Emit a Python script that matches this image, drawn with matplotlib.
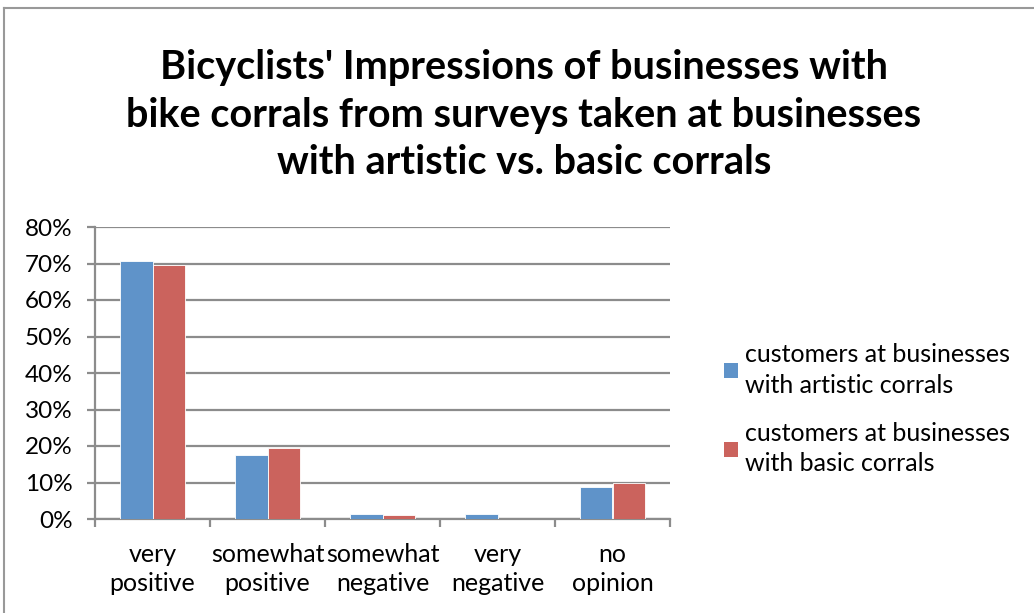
import matplotlib
matplotlib.use("Agg")
import matplotlib.pyplot as plt
import numpy as np
from matplotlib.lines import Line2D
from matplotlib.patches import Patch

categories = ["very\npositive", "somewhat\npositive", "somewhat\nnegative", "very\nnegative", "no\nopinion"]
artistic = [70.6, 17.5, 1.4, 1.3, 8.8]
basic = [69.6, 19.4, 1.1, 0.0, 9.8]
series_names = ["customers at businesses\nwith artistic corrals",
                "customers at businesses\nwith basic corrals"]
yticks = [0, 10, 20, 30, 40, 50, 60, 70, 80]
title = "Bicyclists' Impressions of businesses with\nbike corrals from surveys taken at businesses\nwith artistic vs. basic corrals"

plt.rcParams['font.family'] = ['Lato', 'DejaVu Sans']

W, H = 1034, 613
fig = plt.figure(figsize=(W / 100, H / 100), dpi=100)
ax = fig.add_axes([95 / W, 1 - 519 / H, (670 - 95) / W, (519 - 227) / H])

blue = "#5F93C9"
red = "#CB635D"
grid_c = "#8C8C8C"

x = np.arange(len(categories))
bw = 0.285
ax.bar(x - bw / 2, artistic, bw, color=blue, edgecolor="white", linewidth=0.6, zorder=3)
ax.bar(x + bw / 2, basic, bw, color=red, edgecolor="white", linewidth=0.6, zorder=3)

ax.set_xlim(-0.5, len(categories) - 0.5)
ax.set_ylim(0, 80)
ax.set_yticks(yticks)
ax.set_yticklabels([f"{v}%" for v in yticks], fontsize=17.5)
ax.yaxis.grid(True, color=grid_c, linewidth=1.6, zorder=0)
ax.set_axisbelow(True)

ax.set_xticks(np.arange(len(categories) + 1) - 0.5)
ax.set_xticklabels([])
ax.set_xticks(x, minor=True)
ax.set_xticklabels(categories, minor=True, fontsize=18, linespacing=1.35)
ax.tick_params(axis="x", which="minor", length=0, pad=17)
ax.tick_params(axis="x", which="major", length=6, width=1.6, color=grid_c)
ax.tick_params(axis="y", length=6, width=1.6, color=grid_c, pad=10)

for s in ["top", "right"]:
    ax.spines[s].set_visible(False)
for s in ["left", "bottom"]:
    ax.spines[s].set_color(grid_c)
    ax.spines[s].set_linewidth(1.6)

fig.text(524 / W, 1 - 115 / H, title, ha="center", va="center", fontsize=28.5,
         fontweight="bold", linespacing=1.36)

handles = [Patch(facecolor=blue), Patch(facecolor=red)]
leg = fig.legend(handles, series_names, loc="upper left", bbox_to_anchor=(714 / W, 1 - 333 / H),
                 frameon=False, fontsize=18, handlelength=0.55, handleheight=0.55,
                 handletextpad=0.3, labelspacing=1.0, borderaxespad=0)
for t in leg.get_texts():
    t.set_linespacing(1.4)

# outer chart border
fig.add_artist(Line2D([4 / W, 4 / W], [0, 1 - 8 / H], color="#999999", linewidth=1.5))
fig.add_artist(Line2D([4 / W, 1], [1 - 8 / H, 1 - 8 / H], color="#999999", linewidth=1.5))

fig.savefig("out.png", dpi=100)
